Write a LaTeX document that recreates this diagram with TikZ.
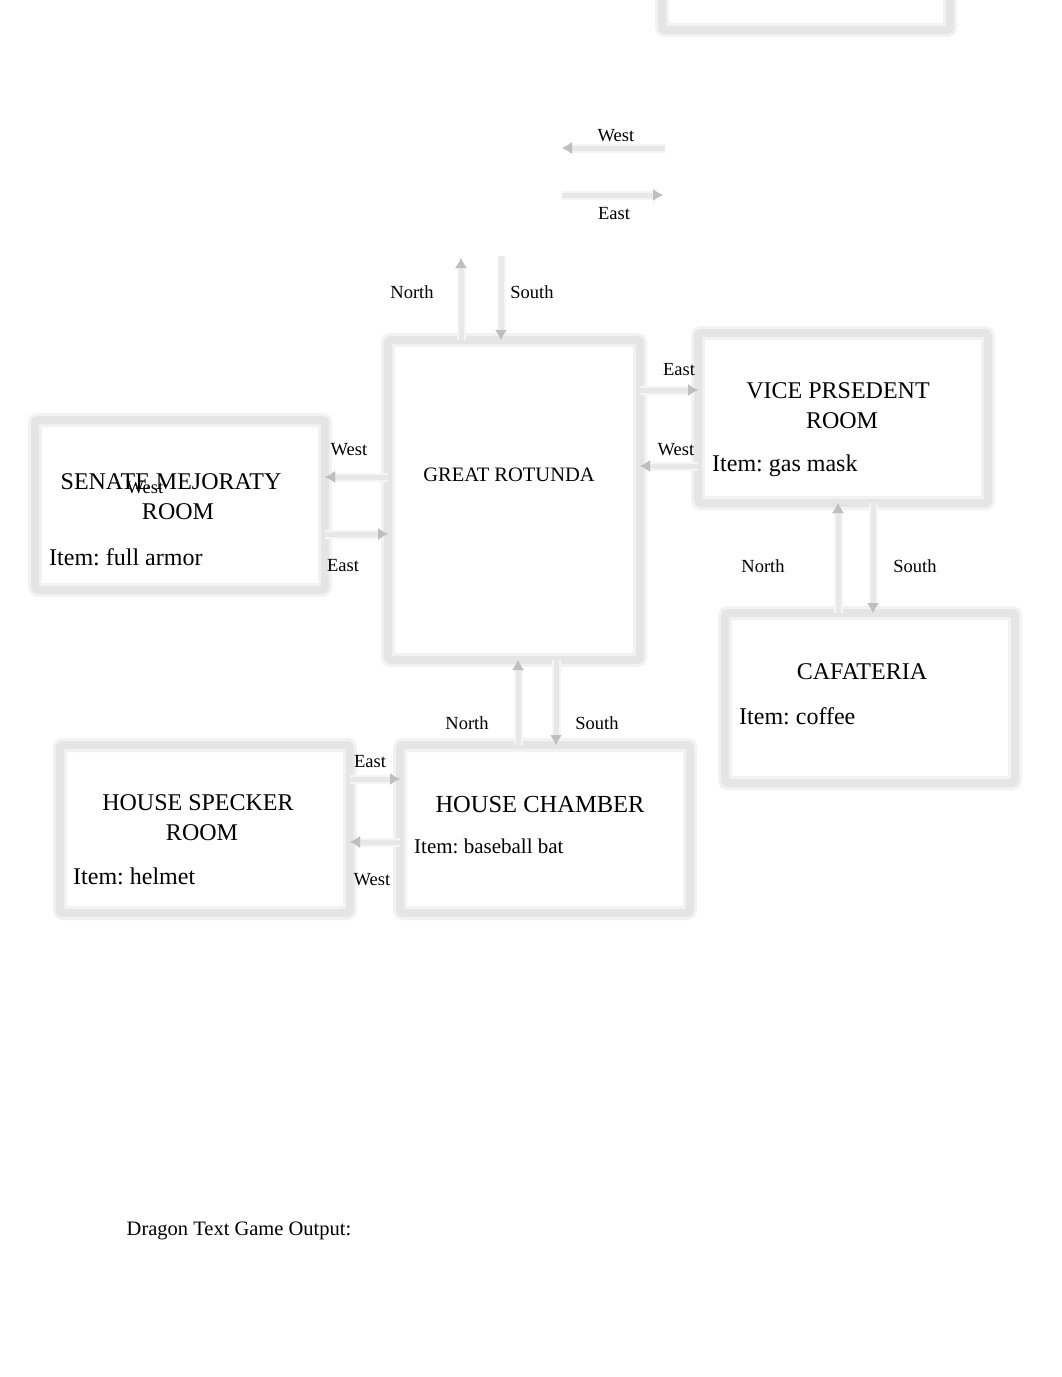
\documentclass[tikz,border=0pt]{standalone}
\usepackage{fontspec}
\setmainfont{Liberation Serif}
\usetikzlibrary{arrows.meta}
\frenchspacing
\begin{document}
\begin{tikzpicture}[x=1pt,y=-1pt,
  room/.style={rectangle, draw=black!10, line width=8pt, rounded corners=3pt,
    preaction={draw=black!5, line width=14pt}, inner sep=0pt, outer sep=0pt},
  conn/.style={draw=black!9, line width=5pt, preaction={draw=black!4, line width=9pt},
    -{Latex[length=10pt,width=12pt,fill=black!25,color=black!25]}},
  lbl/.style={font=\fontsize{18.5}{20}\selectfont, inner sep=0pt},
  ttl/.style={font=\fontsize{24}{30}\selectfont, inner sep=0pt, align=center},
  itm/.style={font=\fontsize{24}{27}\selectfont, inner sep=0pt, anchor=west}
]
\clip (0,0) rectangle (1062,1377);
\fill[white] (0,0) rectangle (1062,1377);

% rooms
\node[room, minimum width=288pt, minimum height=170pt] (top) at (806,-55) {};
\node[room, minimum width=252pt, minimum height=320pt] (rot) at (514,500) {};
\node[room, minimum width=290pt, minimum height=170pt] (sen) at (180,505) {};
\node[room, minimum width=290pt, minimum height=170pt] (vp)  at (843,418) {};
\node[room, minimum width=290pt, minimum height=170pt] (caf) at (870,698) {};
\node[room, minimum width=290pt, minimum height=168pt] (hs)  at (205,829) {};
\node[room, minimum width=290pt, minimum height=168pt] (hc)  at (545,829) {};

% free ends
\coordinate (wA) at (665,148);
\coordinate (wB) at (562,148);
\coordinate (eA) at (562,195);
\coordinate (eB) at (663,195);
\coordinate (nEnd) at (461,258);
\coordinate (sStart) at (501,256);

% connectors
\draw[conn] (wA) -- (wB);
\draw[conn] (eA) -- (eB);
\draw[conn] (rot.north -| nEnd) -- (nEnd);
\draw[conn] (sStart) -- (rot.north -| sStart);
\draw[conn] (rot.west |- 0,477) -- (sen.east |- 0,477);
\draw[conn] (sen.east |- 0,534) -- (rot.west |- 0,534);
\draw[conn] (rot.east |- 0,390) -- (vp.west |- 0,390);
\draw[conn] (vp.west |- 0,466) -- (rot.east |- 0,466);
\draw[conn] (caf.north -| 838,0) -- (vp.south -| 838,0);
\draw[conn] (vp.south -| 873,0) -- (caf.north -| 873,0);
\draw[conn] (hc.north -| 518,0) -- (rot.south -| 518,0);
\draw[conn] (rot.south -| 556,0) -- (hc.north -| 556,0);
\draw[conn] (hs.east |- 0,779) -- (hc.west |- 0,779);
\draw[conn] (hc.west |- 0,842) -- (hs.east |- 0,842);

% connector labels
\node[lbl] (l1) at (616,136) {West};
\node[lbl] (l2) at (614,214) {East};
\node[lbl] (l3) at (412,292) {North};
\node[lbl] (l4) at (532,292) {South};
\node[lbl] (l5) at (349,450) {West};
\node[lbl] (l6) at (343,566) {East};
\node[lbl] (l7) at (145,488) {West};
\node[lbl] (l8) at (679,370) {East};
\node[lbl] (l9) at (676,450) {West};
\node[lbl] (l10) at (763,566) {North};
\node[lbl] (l11) at (915,566) {South};
\node[lbl] (l12) at (467,723) {North};
\node[lbl] (l13) at (597,723) {South};
\node[lbl] (l14) at (370,762) {East};
\node[lbl] (l15) at (372,880) {West};

% room texts
\node[ttl] (t1) at (171,482) {SENATE MEJORATY};
\node[ttl] (t1b) at (178,512) {ROOM};
\node[itm] (i1) at (49,557) {Item: full armor};
\node[font=\fontsize{20.5}{24}\selectfont, inner sep=0pt] (t2) at (509,475) {GREAT ROTUNDA};
\node[ttl] (t3) at (838,391) {VICE PRSEDENT};
\node[ttl] (t3b) at (842,421) {ROOM};
\node[itm] (i3) at (712,466) {Item: gas mask};
\node[ttl] (t4) at (862,672) {CAFATERIA};
\node[itm] (i4) at (739,716) {Item: coffee};
\node[ttl] (t5) at (198,803) {HOUSE SPECKER};
\node[ttl] (t5b) at (202,833) {ROOM};
\node[itm] (i5) at (73,876) {Item: helmet};
\node[font=\fontsize{24.5}{28}\selectfont, inner sep=0pt] (t6) at (540,804) {HOUSE CHAMBER};
\node[font=\fontsize{21}{24}\selectfont, inner sep=0pt, anchor=west] (i6) at (414,846) {Item: baseball bat};

\node[font=\fontsize{20.5}{24}\selectfont, inner sep=0pt] (out) at (239,1231) {Dragon Text Game Output:};
\end{tikzpicture}
\end{document}
